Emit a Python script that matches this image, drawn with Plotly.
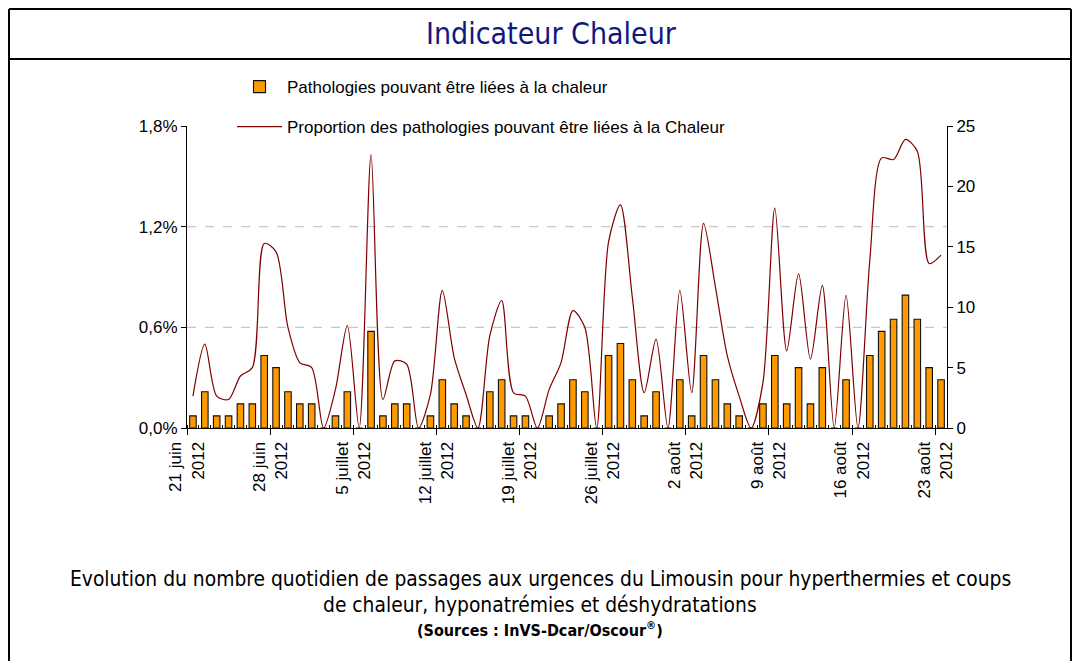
import plotly.graph_objects as go

# ---- data ----
date_labels = ["21 juin<br>2012", "28 juin<br>2012", "5 juillet<br>2012", "12 juillet<br>2012",
               "19 juillet<br>2012", "26 juillet<br>2012", "2 août<br>2012", "9 août<br>2012",
               "16 août<br>2012", "23 août<br>2012"]
n_days = 64  # 21 juin -> 23 août 2012
counts = [1, 3, 1, 1, 2, 2, 6, 5, 3, 2,
          2, 0, 1, 3, 0, 8, 1, 2, 2, 0,
          1, 4, 2, 1, 0, 3, 4, 1, 1, 0,
          1, 2, 4, 3, 0, 6, 7, 4, 1, 3,
          0, 4, 1, 6, 4, 2, 1, 0, 2, 6,
          2, 5, 2, 5, 0, 4, 0, 6, 8, 9,
          11, 9, 5, 4]
proportion = [0.19, 0.50, 0.19, 0.17, 0.31, 0.36, 1.10, 1.05, 0.60, 0.39,
              0.36, 0.00, 0.23, 0.61, 0.00, 1.63, 0.17, 0.40, 0.38, 0.00,
              0.20, 0.82, 0.42, 0.20, 0.00, 0.55, 0.76, 0.21, 0.19, 0.00,
              0.23, 0.39, 0.70, 0.60, 0.00, 1.11, 1.33, 0.78, 0.21, 0.53,
              0.00, 0.82, 0.21, 1.22, 0.84, 0.43, 0.19, 0.00, 0.27, 1.31,
              0.46, 0.92, 0.41, 0.85, 0.00, 0.79, 0.00, 1.00, 1.61, 1.60,
              1.72, 1.65, 0.98, 1.03]
left_ticks = [0, 0.6, 1.2, 1.8]
left_ticktext = ["0,0%", "0,6%", "1,2%", "1,8%"]
right_ticks = [0, 5, 10, 15, 20, 25]

x = list(range(n_days))

OFF = 8  # page body margin
W, H = 1080 - 2 * OFF, 669 - 2 * OFF
PLOT_L, PLOT_R, PLOT_T, PLOT_B = 187, 947, 126, 428.3   # screen pixels
L = PLOT_L - OFF
R = W - (PLOT_R - OFF)
T = PLOT_T - OFF
B = H - (PLOT_B - OFF)
PW, PH = W - L - R, H - T - B


def px2x(px):
    return (px - OFF - L) / PW


def px2y(py):
    return (H - B - (py - OFF)) / PH


ARIAL = "Liberation Sans, Arial, sans-serif"
NARROW = "Liberation Sans Narrow, Arial Narrow, DejaVu Sans Condensed, sans-serif"

fig = go.Figure()
fig.add_trace(go.Bar(
    x=x, y=counts, yaxis="y2", width=0.55,
    marker=dict(color="#FF9900", line=dict(color="#111111", width=1.1)),
    name="Pathologies pouvant être liées à la chaleur",
    legendgroup="a",
))
fig.add_trace(go.Scatter(
    x=x, y=proportion, mode="lines", yaxis="y",
    line=dict(color="#800000", width=1.2, shape="spline", smoothing=0.8),
    name="Proportion des pathologies pouvant être liées à la Chaleur",
    legendgroup="b",
))

fx0, fx1 = px2x(OFF + 1), px2x(OFF + W - 1)
fy_top, fy_bot = px2y(OFF + 1), px2y(OFF + H + 5)
frame = dict(color="black", width=2)
shapes = [
    dict(type="line", xref="paper", yref="paper", x0=fx0, x1=fx1, y0=fy_top, y1=fy_top, line=frame),
    dict(type="line", xref="paper", yref="paper", x0=fx0, x1=fx0, y0=fy_top, y1=fy_bot, line=frame),
    dict(type="line", xref="paper", yref="paper", x0=fx1, x1=fx1, y0=fy_top, y1=fy_bot, line=frame),
    dict(type="line", xref="paper", yref="paper",
         x0=fx0, x1=fx1, y0=px2y(59), y1=px2y(59), line=frame),
]
for g in [0.6, 1.2]:
    shapes.append(dict(type="line", xref="paper", yref="y", x0=0, x1=1, y0=g, y1=g,
                       line=dict(color="#c8c8c8", width=1.2, dash="dash"), layer="below"))

annotations = [
    dict(text="Indicateur Chaleur", xref="paper", yref="paper", x=px2x(551), y=px2y(33),
         showarrow=False, xanchor="center", yanchor="middle",
         font=dict(family=NARROW, size=30, color="#10187f")),
    dict(text="Evolution du nombre quotidien de passages aux urgences du Limousin pour hyperthermies et coups",
         xref="paper", yref="paper", x=px2x(540), y=px2y(579), showarrow=False,
         xanchor="center", yanchor="middle", font=dict(family=NARROW, size=20.8, color="black")),
    dict(text="de chaleur, hyponatrémies et déshydratations",
         xref="paper", yref="paper", x=px2x(540), y=px2y(605), showarrow=False,
         xanchor="center", yanchor="middle", font=dict(family=NARROW, size=20.8, color="black")),
    dict(text="<b>(Sources : InVS-Dcar/Oscour<sup>®</sup>)</b>",
         xref="paper", yref="paper", x=px2x(540), y=px2y(630), showarrow=False,
         xanchor="center", yanchor="middle", font=dict(family=NARROW, size=16, color="black")),
]

fig.update_layout(
    width=W, height=H,
    margin=dict(l=L, r=R, t=T, b=B),
    paper_bgcolor="white", plot_bgcolor="white",
    showlegend=True,
    legend=dict(x=px2x(232), y=px2y(69), xanchor="left", yanchor="top",
                bgcolor="rgba(0,0,0,0)", font=dict(family=ARIAL, size=17, color="black"),
                tracegroupgap=15, itemwidth=45, traceorder="grouped"),
    xaxis=dict(range=[-0.5, n_days - 0.5], showgrid=False, zeroline=False,
               showline=True, linecolor="black", linewidth=1,
               tickmode="array", tickvals=[-0.5 + 7 * k for k in range(len(date_labels))],
               ticktext=date_labels, tickangle=-90, ticks="outside", ticklen=6,
               tickcolor="black", tickfont=dict(family=ARIAL, size=17, color="black"),
               minor=dict(tick0=-0.5, dtick=1, ticks="inside", ticklen=3, tickcolor="black",
                          showgrid=False)),
    yaxis=dict(range=[0, 1.8], showgrid=False, zeroline=False, showline=True,
               linecolor="black", linewidth=1, tickmode="array", tickvals=left_ticks,
               ticktext=left_ticktext, ticks="outside", ticklen=5, tickcolor="black",
               tickfont=dict(family=ARIAL, size=17, color="black")),
    yaxis2=dict(range=[0, 25], overlaying="y", side="right", showgrid=False, zeroline=False,
                showline=True, linecolor="black", linewidth=1, tickmode="array",
                tickvals=right_ticks, ticks="outside", ticklen=5, tickcolor="black",
                tickfont=dict(family=ARIAL, size=17, color="black")),
    shapes=shapes,
    annotations=annotations,
)

fig.write_html("out.html")
